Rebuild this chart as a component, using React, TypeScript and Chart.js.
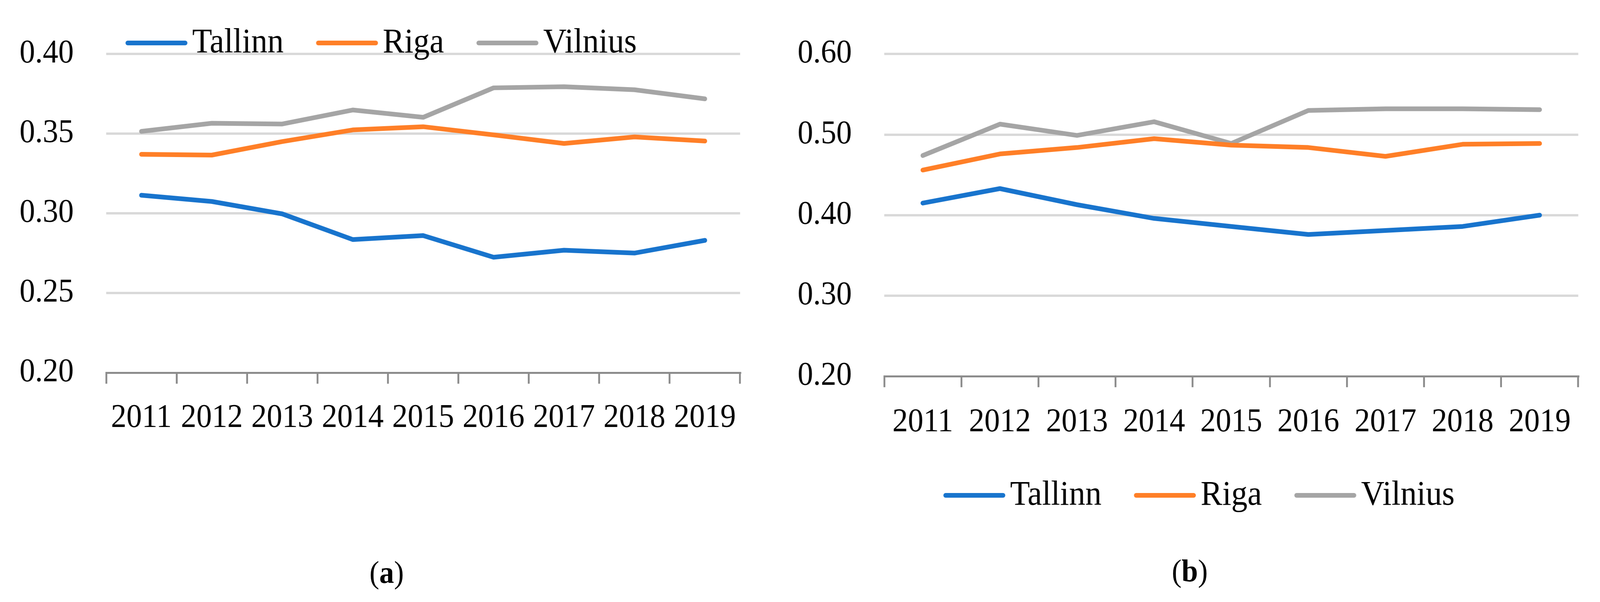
import React, { useEffect, useRef } from "react";
import { Chart, registerables } from "chart.js";

Chart.register(...registerables);

// ---------- data ----------
const YEARS = ["2011", "2012", "2013", "2014", "2015", "2016", "2017", "2018", "2019"];
const SERIES_NAMES = ["Tallinn", "Riga", "Vilnius"];

const TALLINN_A = [0.3114, 0.3075, 0.2997, 0.2836, 0.2861, 0.2725, 0.2769, 0.2751, 0.2831];
const RIGA_A = [0.3371, 0.3366, 0.3451, 0.3524, 0.3544, 0.3493, 0.3439, 0.348, 0.3454];
const VILNIUS_A = [0.3515, 0.3566, 0.3561, 0.3649, 0.3603, 0.3788, 0.3795, 0.3776, 0.3719];

const TALLINN_B = [0.415, 0.433, 0.413, 0.396, 0.386, 0.376, 0.381, 0.386, 0.4];
const RIGA_B = [0.456, 0.476, 0.484, 0.495, 0.487, 0.484, 0.473, 0.488, 0.489];
const VILNIUS_B = [0.474, 0.513, 0.499, 0.516, 0.489, 0.53, 0.532, 0.532, 0.531];

const Y_RANGE_A = [0.2, 0.4];
const Y_STEP_A = 0.05;
const Y_RANGE_B = [0.2, 0.6];
const Y_STEP_B = 0.1;

const CAPTIONS = ["a", "b"];

// ---------- styles ----------
const DESIGN_W = 4341;
const DESIGN_H = 1541;
const COLORS = ["#1874CD", "#FF7F27", "#A5A5A5"];
const FONT = '"Liberation Serif", "Times New Roman", serif';
const TICK_SIZE = 84;
const LEGEND_SIZE = 88;

const lineLegend = {
  id: "lineLegend",
  afterDraw(chart: any, _args: any, opts: any) {
    const ctx = chart.ctx;
    ctx.save();
    ctx.font = `${LEGEND_SIZE}px ${FONT}`;
    const items = chart.data.datasets.map((ds: any) => ({
      text: ds.label,
      color: ds.borderColor,
      w: ctx.measureText(ds.label).width,
    }));
    const lineLen = 156, cap = 6, gapText = 13, gapItem = 88;
    const total =
      items.reduce((a: number, it: any) => a + cap * 2 + lineLen + gapText + it.w, 0) +
      gapItem * (items.length - 1);
    let x = opts.centerX - total / 2;
    for (const it of items) {
      ctx.strokeStyle = it.color;
      ctx.lineWidth = 12;
      ctx.lineCap = "round";
      ctx.beginPath();
      ctx.moveTo(x + cap, opts.y);
      ctx.lineTo(x + cap + lineLen, opts.y);
      ctx.stroke();
      ctx.fillStyle = "#000";
      ctx.textBaseline = "alphabetic";
      ctx.textAlign = "left";
      ctx.fillText(it.text, x + 2 * cap + lineLen + gapText, opts.y + 24);
      x += 2 * cap + lineLen + gapText + it.w + gapItem;
    }
    ctx.restore();
  },
};

function makeConfig(
  series: number[][],
  range: number[],
  step: number,
  padding: any,
  xPad: number,
  legend: { centerX: number; y: number }
): any {
  return {
    type: "line",
    data: {
      labels: YEARS,
      datasets: series.map((vals, i) => ({
        label: SERIES_NAMES[i],
        data: vals,
        borderColor: COLORS[i],
        backgroundColor: COLORS[i],
        borderWidth: 12,
        borderCapStyle: "round",
        borderJoinStyle: "round",
        pointRadius: 0,
        pointHoverRadius: 0,
        tension: 0,
        fill: false,
      })),
    },
    options: {
      responsive: false,
      animation: false,
      devicePixelRatio: 1,
      events: [],
      layout: { padding },
      plugins: {
        legend: { display: false },
        tooltip: { enabled: false },
        title: { display: false },
        lineLegend: legend,
      },
      scales: {
        x: {
          type: "category",
          offset: true,
          grid: {
            display: true,
            offset: true,
            drawOnChartArea: false,
            drawTicks: true,
            tickLength: 28,
            color: "#8C8C8C",
            lineWidth: 5,
          },
          border: { display: true, color: "#8C8C8C", width: 5 },
          ticks: {
            color: "#000",
            font: { family: FONT, size: TICK_SIZE },
            padding: xPad,
            maxRotation: 0,
            autoSkip: false,
          },
        },
        y: {
          min: range[0],
          max: range[1],
          grid: {
            drawTicks: false,
            lineWidth: 6,
            color: (c: any) =>
              c.tick && Math.abs(c.tick.value - range[0]) < 1e-9 ? "rgba(0,0,0,0)" : "#D9D9D9",
          },
          border: { display: false },
          ticks: {
            stepSize: step,
            padding: 88,
            color: "#000",
            font: { family: FONT, size: TICK_SIZE },
            callback: (v: any) => Number(v).toFixed(2),
          },
        },
      },
    },
    plugins: [lineLegend],
  };
}

function ChartCanvas(props: {
  left: number;
  top: number;
  width: number;
  height: number;
  config: () => any;
}) {
  const ref = useRef<HTMLCanvasElement | null>(null);
  useEffect(() => {
    if (!ref.current) return;
    const chart = new Chart(ref.current, props.config());
    return () => chart.destroy();
  }, []);
  return (
    <canvas
      ref={ref}
      width={props.width}
      height={props.height}
      style={{
        position: "absolute",
        left: props.left,
        top: props.top,
        width: props.width,
        height: props.height,
      }}
    />
  );
}

function Caption(props: { cx: number; cy: number; letter: string }) {
  const fs = 80;
  return (
    <div
      style={{
        position: "absolute",
        left: props.cx,
        top: props.cy - 0.58 * fs,
        transform: "translateX(-50%)",
        fontFamily: FONT,
        fontSize: fs,
        lineHeight: 1,
        color: "#000",
        whiteSpace: "nowrap",
      }}
    >
      (<b>{props.letter}</b>)
    </div>
  );
}

export default function App() {
  const vw = typeof window !== "undefined" ? document.documentElement.clientWidth || window.innerWidth : DESIGN_W;
  const vh = typeof window !== "undefined" ? document.documentElement.clientHeight || window.innerHeight : DESIGN_H;
  const sx = vw / DESIGN_W;
  const sy = vh / DESIGN_H;
  return (
    <div
      style={{
        position: "fixed",
        left: 0,
        top: 0,
        width: vw,
        height: vh,
        overflow: "hidden",
        background: "#fff",
      }}
    >
      <div
        style={{
          position: "absolute",
          left: 0,
          top: 0,
          width: DESIGN_W,
          height: DESIGN_H,
          background: "#fff",
          transformOrigin: "0 0",
          transform: `scale(${sx}, ${sy})`,
        }}
      >
        <ChartCanvas
          left={-40}
          top={0}
          width={2210}
          height={1170}
          config={() =>
            makeConfig(
              [TALLINN_A, RIGA_A, VILNIUS_A],
              Y_RANGE_A,
              Y_STEP_A,
              { left: 5, right: 162, top: 126, bottom: 11 },
              38,
              { centerX: 1074, y: 110 }
            )
          }
        />
        <ChartCanvas
          left={2070}
          top={0}
          width={2271}
          height={1541}
          config={() =>
            makeConfig(
              [TALLINN_B, RIGA_B, VILNIUS_B],
              Y_RANGE_B,
              Y_STEP_B,
              { left: 6, right: 59, top: 114, bottom: 369 },
              40,
              { centerX: 1183, y: 1268 }
            )
          }
        />
        <Caption cx={1049} cy={1471} letter={CAPTIONS[0]} />
        <Caption cx={3228} cy={1467} letter={CAPTIONS[1]} />
      </div>
    </div>
  );
}
